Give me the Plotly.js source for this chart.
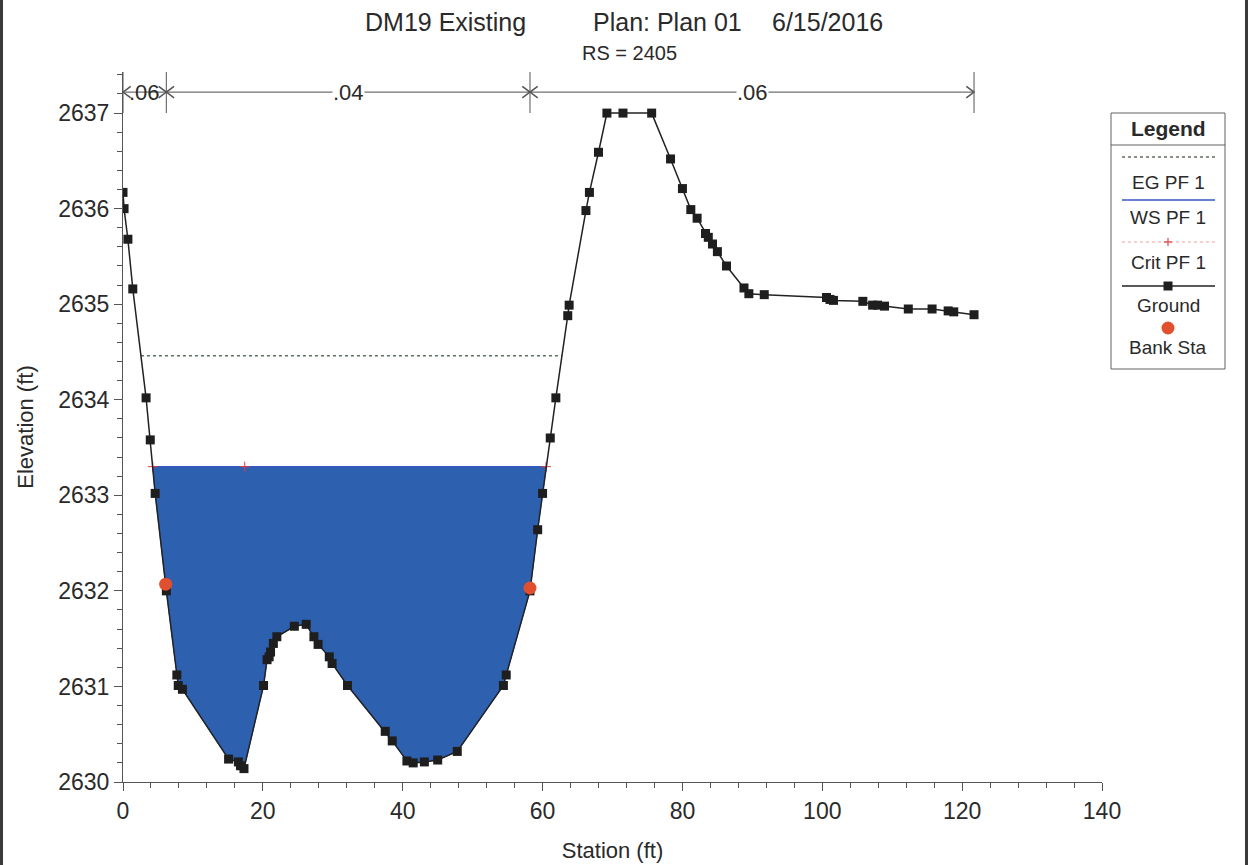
<!DOCTYPE html>
<html>
<head>
<meta charset="utf-8">
<script src="https://cdn.plot.ly/plotly-3.0.1.min.js"></script>
<style>
  html, body { margin:0; padding:0; background:#fff; }
  #chart { width:1249px; height:865px; }
  .edge { position:absolute; top:0; width:3px; height:865px; background:#3a3a3a; }
</style>
</head>
<body>
<div id="chart"></div>
<div class="edge" style="left:0"></div>
<div class="edge" style="left:1245px"></div>
<script>
// ---------------- DATA ----------------
const groundSta = [0, 0.15, 0.7, 1.4, 3.3, 3.9, 4.6, 6.2, 7.7, 7.9, 8.5, 15.1, 16.5, 16.8, 17.3,
  20.1, 20.6, 20.9, 21.1, 21.5, 22.0, 24.5, 26.2, 27.3, 27.9, 29.5, 29.9, 32.1, 37.5, 38.5,
  40.6, 41.5, 43.1, 45.0, 47.8, 54.4, 54.8, 58.2, 59.3, 60.0, 61.1, 61.9, 63.6, 63.8, 66.2,
  66.7, 68.0, 69.2, 71.5, 75.6, 78.3, 80.0, 81.2, 82.1, 83.3, 83.7, 84.3, 85.0, 86.3, 88.8,
  89.5, 91.7, 100.6, 101.1, 101.6, 105.8, 107.2, 107.9, 108.9, 112.3, 115.7, 118.0, 118.8, 121.7];
const groundElev = [2636.17, 2636.00, 2635.68, 2635.16, 2634.02, 2633.58, 2633.02, 2632.00, 2631.12, 2631.01, 2630.97, 2630.24, 2630.21, 2630.17, 2630.14,
  2631.01, 2631.28, 2631.31, 2631.36, 2631.45, 2631.52, 2631.63, 2631.65, 2631.52, 2631.44, 2631.31, 2631.24, 2631.01, 2630.53, 2630.43,
  2630.22, 2630.20, 2630.21, 2630.23, 2630.32, 2631.01, 2631.12, 2632.00, 2632.64, 2633.02, 2633.60, 2634.02, 2634.88, 2634.99, 2635.98,
  2636.17, 2636.59, 2637.00, 2637.00, 2637.00, 2636.52, 2636.21, 2635.99, 2635.90, 2635.74, 2635.70, 2635.63, 2635.55, 2635.40, 2635.17,
  2635.11, 2635.10, 2635.07, 2635.05, 2635.04, 2635.03, 2634.99, 2634.99, 2634.98, 2634.95, 2634.95, 2634.93, 2634.92, 2634.89];

const wsElev = 2633.30;      // WS PF 1
const egElev = 2634.46;      // EG PF 1
const critElev = 2633.30;    // Crit PF 1
const critSta = [4.25, 17.4, 60.5];

const bankSta = [6.1, 58.2];
const bankElev = [2632.07, 2632.03];

const nSta = [0, 6.2, 58.2, 121.7];
const nVals = ['.06', '.04', '.06'];

const xTicks = [0, 20, 40, 60, 80, 100, 120, 140];
const yTicks = [2630, 2631, 2632, 2633, 2634, 2635, 2636, 2637];

// ---------------- HELPERS ----------------
function crossings(level) {
  let left = null, right = null;
  for (let i = 0; i < groundSta.length - 1; i++) {
    const a = groundElev[i], b = groundElev[i + 1];
    if (left === null && a >= level && b < level) {
      left = groundSta[i] + (a - level) / (a - b) * (groundSta[i + 1] - groundSta[i]);
    }
    if (a < level && b >= level) {
      right = groundSta[i] + (level - a) / (b - a) * (groundSta[i + 1] - groundSta[i]);
    }
  }
  return [left, right];
}

const [wsL, wsR] = crossings(wsElev);
const [egL, egR] = crossings(egElev);

const fillX = [wsL], fillY = [wsElev];
for (let i = 0; i < groundSta.length; i++) {
  if (groundSta[i] > wsL && groundSta[i] < wsR) { fillX.push(groundSta[i]); fillY.push(groundElev[i]); }
}
fillX.push(wsR); fillY.push(wsElev);

const FONT = '"Liberation Sans", Arial, sans-serif';
const TXT = '#2a2a2a';

const traces = [
  { x: fillX, y: fillY, mode: 'lines', fill: 'toself', fillcolor: '#2e60b0',
    line: { color: '#2e60b0', width: 1 }, hoverinfo: 'skip', showlegend: false },
  { x: [egL, egR], y: [egElev, egElev], mode: 'lines',
    line: { color: '#5f6f5f', width: 1.5, dash: 'dot' }, showlegend: false },
  { x: [wsL, wsR], y: [wsElev, wsElev], mode: 'lines',
    line: { color: '#3556c0', width: 1.5 }, showlegend: false },
  { x: critSta, y: critSta.map(() => critElev), mode: 'markers',
    marker: { symbol: 'cross-thin-open', size: 7, color: '#e04040', line: { color: '#e04040', width: 1 } }, showlegend: false },
  { x: groundSta, y: groundElev, mode: 'lines+markers',
    line: { color: '#222222', width: 1.5 },
    marker: { symbol: 'square', size: 9, color: '#1e1e1e' }, showlegend: false },
  { x: bankSta, y: bankElev, mode: 'markers',
    marker: { symbol: 'circle', size: 13, color: '#e0502e' }, showlegend: false }
];

// ---------------- MANNING N ANNOTATION ----------------
const nY = 2637.22, nTop = 2637.43, nBot = 2637.0;
const shapes = [];
const annotations = [];
nSta.forEach(s => {
  shapes.push({ type: 'line', xref: 'x', yref: 'y', x0: s, x1: s, y0: nBot, y1: nTop,
    line: { color: '#707070', width: 1.2 } });
});
const cw = 1.1, ch = 0.06;
for (let i = 0; i < nVals.length; i++) {
  const a = nSta[i], b = nSta[i + 1];
  shapes.push({ type: 'line', xref: 'x', yref: 'y', x0: a, x1: b, y0: nY, y1: nY,
    line: { color: '#707070', width: 1.2 } });
  shapes.push({ type: 'path', xref: 'x', yref: 'y',
    path: `M ${a + cw} ${nY + ch} L ${a} ${nY} L ${a + cw} ${nY - ch}`,
    line: { color: '#555555', width: 1.5 } });
  shapes.push({ type: 'path', xref: 'x', yref: 'y',
    path: `M ${b - cw} ${nY + ch} L ${b} ${nY} L ${b - cw} ${nY - ch}`,
    line: { color: '#555555', width: 1.5 } });
  annotations.push({ xref: 'x', yref: 'y', x: (a + b) / 2, y: nY, text: nVals[i], showarrow: false,
    font: { family: FONT, size: 22, color: TXT }, bgcolor: i === 0 ? 'rgba(255,255,255,0)' : '#ffffff',
    xanchor: 'center', yanchor: 'middle', borderpad: 0 });
}

// ---------------- TITLES ----------------
const PW = 979, PH = 710, PL = 123, PB = 782;
const px = v => (v - PL) / PW;
const py = v => (PB - v) / PH;

annotations.push({ xref: 'paper', yref: 'paper', x: px(445), y: py(22), text: 'DM19 Existing', showarrow: false,
  font: { family: FONT, size: 25, color: TXT }, xanchor: 'center', yanchor: 'middle' });
annotations.push({ xref: 'paper', yref: 'paper', x: px(667), y: py(22), text: 'Plan: Plan 01', showarrow: false,
  font: { family: FONT, size: 25, color: TXT }, xanchor: 'center', yanchor: 'middle' });
annotations.push({ xref: 'paper', yref: 'paper', x: px(827), y: py(22), text: '6/15/2016', showarrow: false,
  font: { family: FONT, size: 25, color: TXT }, xanchor: 'center', yanchor: 'middle' });
annotations.push({ xref: 'paper', yref: 'paper', x: px(629), y: py(53), text: 'RS = 2405', showarrow: false,
  font: { family: FONT, size: 20, color: TXT }, xanchor: 'center', yanchor: 'middle' });

// ---------------- LEGEND (drawn) ----------------
const LX0 = 1111, LX1 = 1225, LY0 = 113, LY1 = 369, LC = 1168;
shapes.push({ type: 'rect', xref: 'paper', yref: 'paper', x0: px(LX0), x1: px(LX1), y0: py(LY1), y1: py(LY0),
  line: { color: '#606060', width: 1 }, fillcolor: '#ffffff' });
shapes.push({ type: 'line', xref: 'paper', yref: 'paper', x0: px(LX0), x1: px(LX1), y0: py(145), y1: py(145),
  line: { color: '#606060', width: 1 } });
const sx0 = px(1122), sx1 = px(1215);
shapes.push({ type: 'line', xref: 'paper', yref: 'paper', x0: sx0, x1: sx1, y0: py(157), y1: py(157),
  line: { color: '#5f6f5f', width: 1.5, dash: 'dot' } });
shapes.push({ type: 'line', xref: 'paper', yref: 'paper', x0: sx0, x1: sx1, y0: py(200), y1: py(200),
  line: { color: '#3556c0', width: 1.5 } });
shapes.push({ type: 'line', xref: 'paper', yref: 'paper', x0: sx0, x1: sx1, y0: py(242), y1: py(242),
  line: { color: '#f0a0a0', width: 1, dash: 'dot' } });
shapes.push({ type: 'line', xref: 'paper', yref: 'paper', x0: px(LC - 4), x1: px(LC + 4), y0: py(242), y1: py(242),
  line: { color: '#e04040', width: 1.2 } });
shapes.push({ type: 'line', xref: 'paper', yref: 'paper', x0: px(LC), x1: px(LC), y0: py(238), y1: py(246),
  line: { color: '#e04040', width: 1.2 } });
shapes.push({ type: 'line', xref: 'paper', yref: 'paper', x0: sx0, x1: sx1, y0: py(286), y1: py(286),
  line: { color: '#222222', width: 1.5 } });
shapes.push({ type: 'rect', xref: 'paper', yref: 'paper', x0: px(LC - 4.5), x1: px(LC + 4.5), y0: py(290.5), y1: py(281.5),
  line: { width: 0 }, fillcolor: '#1e1e1e' });
shapes.push({ type: 'circle', xref: 'paper', yref: 'paper', x0: px(LC - 6.5), x1: px(LC + 6.5), y0: py(334.5), y1: py(321.5),
  line: { width: 0 }, fillcolor: '#e0502e' });

const legItems = [['Legend', 128, true], ['EG PF 1', 182], ['WS PF 1', 218], ['Crit PF 1', 262], ['Ground', 305], ['Bank Sta', 347]];
legItems.forEach(([t, y, b]) => {
  annotations.push({ xref: 'paper', yref: 'paper', x: px(LC), y: py(y), text: b ? '<b>' + t + '</b>' : t, showarrow: false,
    font: { family: FONT, size: b ? 21 : 19, color: TXT }, xanchor: 'center', yanchor: 'middle' });
});

// ---------------- LAYOUT ----------------
const layout = {
  width: 1249, height: 865,
  margin: { l: 123, r: 147, t: 72, b: 83, pad: 0 },
  paper_bgcolor: '#ffffff', plot_bgcolor: '#ffffff',
  showlegend: false,
  font: { family: FONT, color: TXT },
  xaxis: {
    range: [0, 140], tickvals: xTicks, ticktext: xTicks.map(String),
    showgrid: false, zeroline: false, showline: true, linecolor: '#555', linewidth: 1,
    ticks: 'outside', ticklen: 8, tickcolor: '#555',
    minor: { dtick: 4, ticks: 'outside', ticklen: 5, tickcolor: '#555', showgrid: false },
    tickfont: { family: FONT, size: 23, color: TXT },
    title: { text: 'Station (ft)', font: { family: FONT, size: 22, color: TXT }, standoff: 20 },
    fixedrange: true
  },
  yaxis: {
    range: [2630, 2637.43], tickvals: yTicks, ticktext: yTicks.map(String),
    showgrid: false, zeroline: false, showline: true, linecolor: '#555', linewidth: 1,
    ticks: 'outside', ticklen: 8, tickcolor: '#555',
    minor: { dtick: 0.2, ticks: 'outside', ticklen: 5, tickcolor: '#555', showgrid: false },
    tickfont: { family: FONT, size: 23, color: TXT },
    title: { text: 'Elevation (ft)', font: { family: FONT, size: 22, color: TXT }, standoff: 18 },
    fixedrange: true
  },
  shapes: shapes,
  annotations: annotations
};

Plotly.newPlot('chart', traces, layout, { displayModeBar: false, staticPlot: true });
</script>
</body>
</html>
